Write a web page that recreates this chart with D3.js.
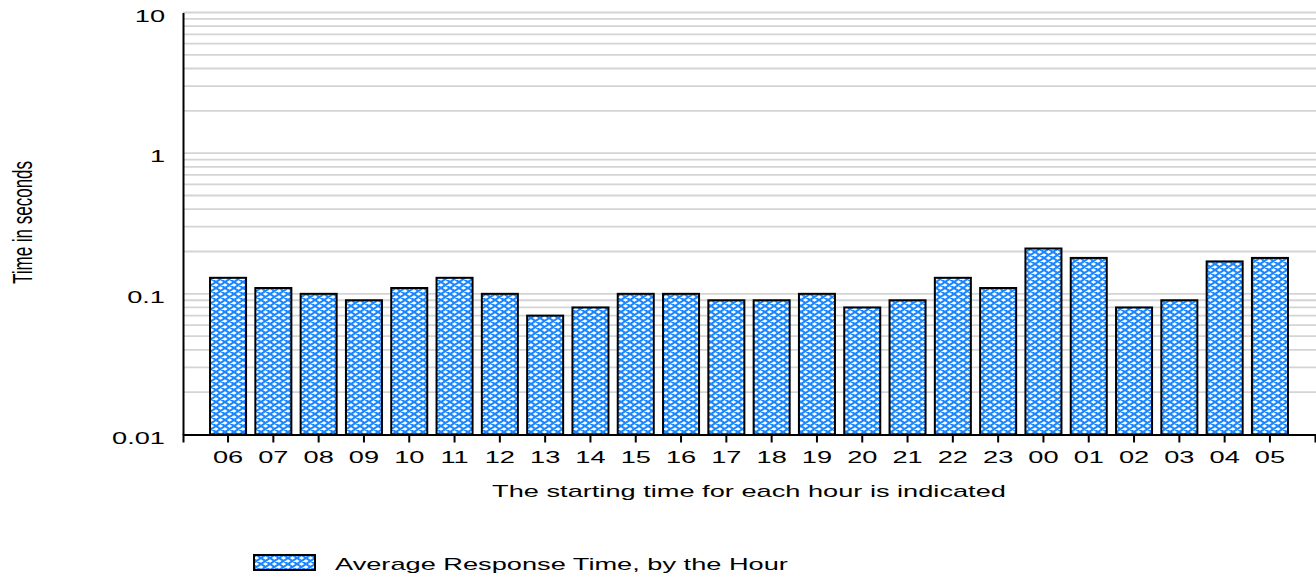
<!DOCTYPE html>
<html>
<head>
<meta charset="utf-8">
<script src="https://cdn.jsdelivr.net/npm/d3@7"></script>
<style>
  html, body { margin: 0; padding: 0; background: #fff; }
  svg { display: block; }
  text { font-family: "Liberation Sans", Arial, sans-serif; fill: #000; }
</style>
</head>
<body>
<svg id="chart" width="1316" height="577"></svg>
<script>
// ---- data ----
const hours = ["06","07","08","09","10","11","12","13","14","15","16","17","18","19","20","21","22","23","00","01","02","03","04","05"];
const responseTimes = [0.13,0.11,0.10,0.09,0.11,0.13,0.10,0.07,0.08,0.10,0.10,0.09,0.09,0.10,0.08,0.09,0.13,0.11,0.21,0.18,0.08,0.09,0.17,0.18];
const yTickValues = [0.01, 0.1, 1, 10];
const yTickLabels = ["0.01", "0.1", "1", "10"];
const seriesName = "Average Response Time, by the Hour";
const xTitle = "The starting time for each hour is indicated";
const yTitle = "Time in seconds";

(function () {
const svg = d3.select("#chart");
const mLeft = 183, mRight = 1315, mTop = 12.5, mBottom = 434.5;
const FS = "17px";      // font size
const SX = 1.6;         // horizontal stretch of all text

// pattern
const defs = svg.append("defs");
const pat = defs.append("pattern")
  .attr("id", "hatch").attr("patternUnits", "userSpaceOnUse")
  .attr("width", 9).attr("height", 6);
pat.append("rect").attr("width", 9).attr("height", 6).attr("fill", "#fff");
pat.append("path")
  .attr("d", "M0,0 L9,6 M0,6 L9,0 M-9,0 L0,6 M9,0 L18,6 M-9,6 L0,0 M9,6 L18,0")
  .attr("stroke", "#1a86ff").attr("stroke-width", 2).attr("fill", "none");

const x = d3.scaleBand().domain(hours).range([mLeft, mRight])
  .paddingInner(0.205).paddingOuter(0.597);
const y = d3.scaleLog().domain([0.01, 10]).range([mBottom, mTop]);

// gridlines (minor log ticks)
const gridVals = y.ticks().filter(v => v > 0.01 + 1e-9);
svg.append("g").selectAll("line").data(gridVals).join("line")
  .attr("x1", mLeft).attr("x2", 1316)
  .attr("y1", d => y(d)).attr("y2", d => y(d))
  .attr("stroke", "#d4d4d4").attr("stroke-width", 1.8);

// bars
svg.append("g").selectAll("rect").data(responseTimes).join("rect")
  .attr("x", (d, i) => x(hours[i]))
  .attr("y", d => y(d))
  .attr("width", x.bandwidth())
  .attr("height", d => mBottom - y(d))
  .attr("fill", "url(#hatch)")
  .attr("stroke", "#000").attr("stroke-width", 2);

// y axis
const yAxis = d3.axisLeft(y).tickValues(yTickValues)
  .tickFormat((d, i) => yTickLabels[i]).tickSize(0);
const gy = svg.append("g").attr("transform", `translate(${mLeft},0)`).call(yAxis);
gy.select(".domain").attr("stroke", "#000").attr("stroke-width", 2);
gy.selectAll(".tick text")
  .attr("x", 0).attr("dy", null).attr("y", 8.5)
  .attr("transform", `translate(-18,0) scale(${SX},1)`)
  .style("font-size", FS).style("font-family", "Liberation Sans, Arial, sans-serif");

// x axis
const xAxis = d3.axisBottom(x).tickSize(8).tickSizeOuter(8);
const gx = svg.append("g").attr("transform", `translate(0,${mBottom})`).call(xAxis);
gx.select(".domain").attr("stroke", "#000").attr("stroke-width", 2);
gx.selectAll(".tick line").attr("stroke", "#000").attr("stroke-width", 2);
gx.selectAll(".tick text")
  .attr("dy", null).attr("y", 29)
  .attr("transform", `scale(${SX},1)`)
  .style("font-size", FS).style("font-family", "Liberation Sans, Arial, sans-serif");

// axis titles
svg.append("text")
  .attr("transform", `translate(${(mLeft + mRight) / 2},497) scale(${SX},1)`)
  .attr("text-anchor", "middle").style("font-size", FS).text(xTitle);
svg.append("text")
  .attr("transform", `translate(32,222.5) rotate(-90) scale(1,${SX})`)
  .attr("text-anchor", "middle")
  .style("font-size", FS).text(yTitle);

// legend
svg.append("rect").attr("x", 254).attr("y", 555).attr("width", 61).attr("height", 15)
  .attr("fill", "url(#hatch)").attr("stroke", "#000").attr("stroke-width", 2);
svg.append("text")
  .attr("transform", `translate(335,570) scale(${SX},1)`)
  .style("font-size", FS).text(seriesName);
})();
</script>
</body>
</html>
